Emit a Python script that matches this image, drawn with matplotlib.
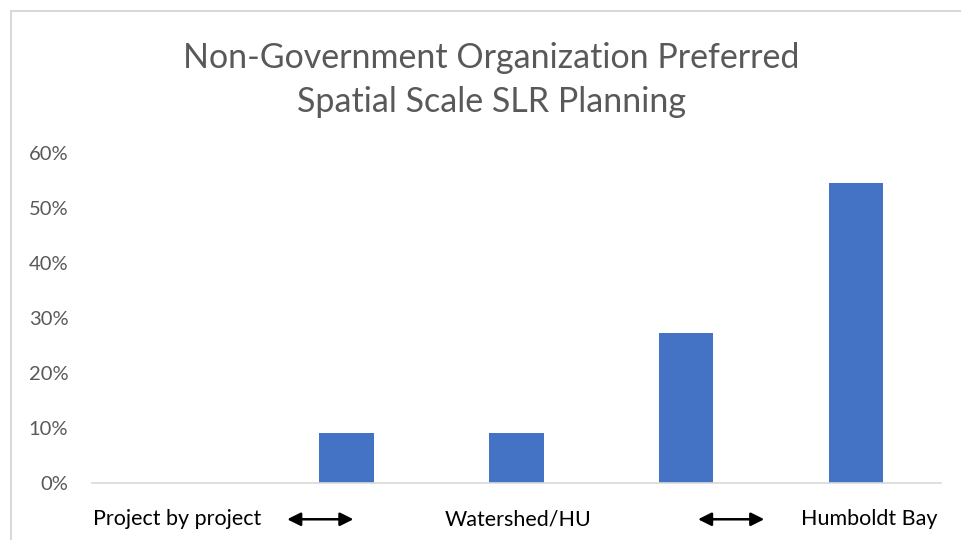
import matplotlib.pyplot as plt
from matplotlib.lines import Line2D
from matplotlib.ticker import PercentFormatter
import matplotlib.transforms as mtransforms

plt.rcParams['font.family'] = ['Lato', 'DejaVu Sans']

# data
categories = ['Project by project', '', 'Watershed/HU', '', 'Humboldt Bay']
shares = [0.0, 9.09, 9.09, 27.27, 54.55]
title = 'Non-Government Organization Preferred\nSpatial Scale SLR Planning'

bar_color = '#4472C4'
grey_text = '#595959'
line_grey = '#D9D9D9'

fig = plt.figure(figsize=(9.61, 5.4), dpi=100)
ax = fig.add_axes([0.0957, 0.1056, 0.8833, 0.6111])

ax.bar(range(len(shares)), shares, width=0.32, color=bar_color)
ax.set_xlim(-0.5, 4.5)
ax.set_ylim(0, 60)
ax.set_yticks(range(0, 61, 10))
ax.yaxis.set_major_formatter(PercentFormatter(decimals=0))
ax.tick_params(axis='y', length=0, labelsize=14.5, labelcolor=grey_text, pad=17)
ax.set_xticks([])
for s in ['top', 'right', 'left']:
    ax.spines[s].set_visible(False)
ax.spines['bottom'].set_color(line_grey)
ax.spines['bottom'].set_linewidth(1.2)

# category labels and arrows below the axis (text boxes in the original)
trans = mtransforms.blended_transform_factory(ax.transData, ax.transAxes)
label_x = [0.0, 2.01, 4.08]
for lbl, x in zip([c for c in categories if c], label_x):
    ax.text(x, -0.11, lbl, transform=trans, ha='center', va='center',
            fontsize=15.5, color='black')
for x0, x1 in [(0.65, 1.04), (3.07, 3.46)]:
    ax.annotate('', xy=(x1, -0.11), xytext=(x0, -0.11), xycoords=trans,
                textcoords=trans, annotation_clip=False,
                arrowprops=dict(arrowstyle='<|-|>', color='black', lw=1.8,
                                mutation_scale=20, shrinkA=0, shrinkB=0))

fig.text(0.511, 0.852, title, ha='center', va='center', fontsize=24.5,
         color=grey_text, linespacing=1.45)

# chart frame
fig.add_artist(Line2D([11 / 961, 11 / 961], [0, 1 - 11 / 540],
                      transform=fig.transFigure, color=line_grey, lw=1.5))
fig.add_artist(Line2D([11 / 961, 1], [1 - 11 / 540, 1 - 11 / 540],
                      transform=fig.transFigure, color=line_grey, lw=1.5))

fig.savefig('out.png', dpi=100)
